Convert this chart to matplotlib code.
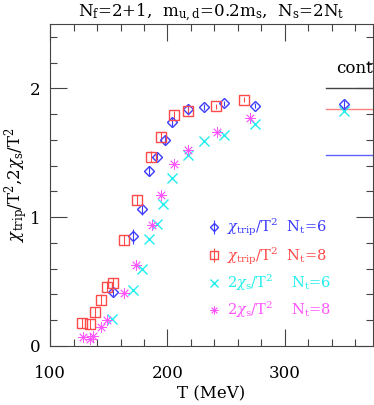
import matplotlib
matplotlib.use("Agg")
import matplotlib.pyplot as plt
from matplotlib.ticker import MultipleLocator

plt.rcParams['font.family'] = ['DejaVu Serif']
plt.rcParams['mathtext.fontset'] = 'dejavuserif'

# chi_trip / T^2, N_t = 6
t_trip6 = [153.9, 170.6, 178.6, 184.5, 190.8, 197.6, 203.5, 217.4, 231.0, 248.3, 274.7]
v_trip6 = [0.415, 0.85, 1.06, 1.36, 1.47, 1.60, 1.74, 1.84, 1.855, 1.885, 1.865]
e_trip6 = [0.03, 0.06, 0.04, 0.04, 0.03, 0.03, 0.03, 0.03, 0.02, 0.02, 0.02]

# chi_trip / T^2, N_t = 8
t_trip8 = [127.2, 133.8, 138.6, 143.0, 148.2, 153.3, 163.0, 173.8, 186.2, 194.7, 205.8, 217.7, 241.5, 265.1]
v_trip8 = [0.18, 0.17, 0.26, 0.36, 0.46, 0.49, 0.82, 1.13, 1.47, 1.62, 1.79, 1.82, 1.86, 1.91]
e_trip8 = [0.04, 0.04, 0.04, 0.04, 0.04, 0.04, 0.04, 0.04, 0.04, 0.04, 0.03, 0.03, 0.02, 0.02]

# 2 chi_s / T^2, N_t = 6
t_s6 = [152.5, 170.4, 178.3, 184.3, 190.8, 196.5, 204.0, 217.7, 231.0, 248.3, 274.7]
v_s6 = [0.205, 0.43, 0.60, 0.83, 0.95, 1.10, 1.30, 1.48, 1.59, 1.64, 1.72]

# 2 chi_s / T^2, N_t = 8
t_s8 = [128.4, 134.0, 136.9, 143.1, 148.2, 163.0, 173.2, 186.8, 194.7, 205.8, 217.4, 241.8, 270.2]
v_s8 = [0.07, 0.05, 0.075, 0.15, 0.20, 0.41, 0.63, 0.94, 1.17, 1.41, 1.52, 1.66, 1.77]

# continuum values
t_cont = 350
cont_trip = 1.88
cont_s = 1.82
cont_red = 1.84
cont_blue = 1.48

blue = '#3c3cff'
red = '#ff4a4a'
cyan = '#22eeee'
magenta = '#ff55ff'

fig = plt.figure(figsize=(3.74, 4.05), dpi=100)
ax = fig.add_axes([0.134, 0.146, 0.863, 0.795])

h1 = ax.errorbar(t_trip6, v_trip6, yerr=e_trip6, fmt='D', mfc='none', mec=blue, ecolor=blue,
                 ms=5, mew=1, elinewidth=0.8, capsize=0)
h2 = ax.errorbar(t_trip8, v_trip8, yerr=e_trip8, fmt='s', mfc='none', mec=red, ecolor=red,
                 ms=7, mew=1, elinewidth=0.8, capsize=0)
h3, = ax.plot(t_s6, v_s6, 'x', color=cyan, ms=7, mew=1)
h4, = ax.plot(t_s8, v_s8, marker=(8, 2, 0), ls='none', color=magenta, ms=7.5, mew=0.6)

# continuum limits
ax.plot([335, 375], [2.0, 2.0], color='#444444', lw=1)
ax.text(344, 2.09, 'cont', fontsize=12, ha='left', va='bottom')
ax.plot([335, 375], [cont_red, cont_red], color='#ff8080', lw=1)
ax.plot([335, 375], [cont_blue, cont_blue], color='#6060ff', lw=1)
ax.errorbar([t_cont], [cont_trip], yerr=[0.03], fmt='D', mfc='none', mec=blue, ecolor=blue,
            ms=5, mew=1, elinewidth=0.8, capsize=0)
ax.plot([t_cont], [cont_s], 'x', color=cyan, ms=7, mew=1)

ax.set_xlim(100, 375)
ax.set_ylim(0, 2.5)
ax.xaxis.set_major_locator(MultipleLocator(100))
ax.xaxis.set_minor_locator(MultipleLocator(20))
ax.yaxis.set_major_locator(MultipleLocator(1))
ax.yaxis.set_minor_locator(MultipleLocator(0.2))
ax.tick_params(which='both', direction='in', top=True, right=True, width=0.8, color='#444444')
ax.tick_params(which='major', length=12)
ax.tick_params(which='minor', length=5)
ax.tick_params(axis='x', which='major', pad=14, labelsize=12)
ax.tick_params(axis='y', which='major', pad=7, labelsize=12)
for s in ax.spines.values():
    s.set_color('#444444')
    s.set_linewidth(0.8)

ax.set_xlabel('T (MeV)', fontsize=12, labelpad=2)
ax.set_ylabel(r'$\chi_{\rm trip}/\mathrm{T}^2$,$2\chi_{\rm s}/\mathrm{T}^2$', fontsize=12, labelpad=0)
ax.set_title(r'$\mathrm{N_f}$=2+1,  $\mathrm{m_{u,d}}$=0.2$\mathrm{m_s}$,  $\mathrm{N_s}$=2$\mathrm{N_t}$',
             fontsize=12, pad=4)

labels = [r'$\chi_{\rm trip}/\mathrm{T}^2$  $\mathrm{N_t}$=6',
          r'$\chi_{\rm trip}/\mathrm{T}^2$  $\mathrm{N_t}$=8',
          r'$2\chi_{\rm s}/\mathrm{T}^2$    $\mathrm{N_t}$=6',
          r'$2\chi_{\rm s}/\mathrm{T}^2$    $\mathrm{N_t}$=8']
leg = ax.legend([h1, h2, h3, h4], labels, loc='center left', bbox_to_anchor=(0.45, 0.24),
                frameon=False, fontsize=10.5, handlelength=0.8, handletextpad=0.5,
                labelspacing=0.45, markerscale=0.75)
for txt, c in zip(leg.get_texts(), [blue, red, cyan, magenta]):
    txt.set_color(c)

fig.savefig('out.png', dpi=100)
